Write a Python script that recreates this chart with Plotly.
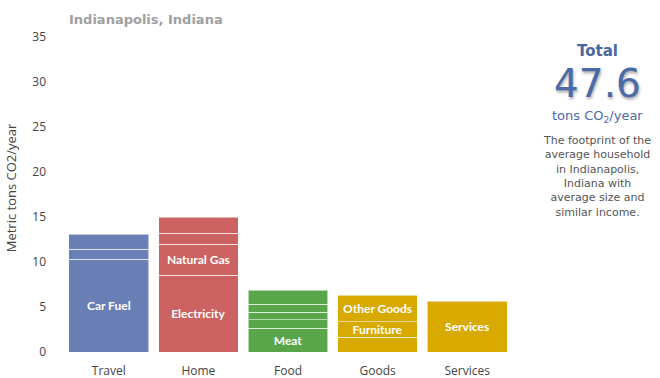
import plotly.graph_objects as go

# ---- data ----
categories = ["Travel", "Home", "Food", "Goods", "Services"]
travel = [10.3, 1.1, 1.7]
home = [8.55, 3.4, 1.22, 1.83]
food = [2.63, 0.96, 0.82, 0.89, 1.55]
goods = [1.63, 1.73, 2.97]
services = [5.63]

travel_labels = ["Car Fuel", "", ""]
home_labels = ["Electricity", "Natural Gas", "", ""]
food_labels = ["Meat", "", "", "", ""]
goods_labels = ["", "Furniture", "Other Goods"]
services_labels = ["Services"]

y_ticks = [0, 5, 10, 15, 20, 25, 30, 35]
total_value = 47.6
city = "Indianapolis, Indiana"

# ---- styles ----
colors = ["#6a7fb5", "#cd6262", "#59a64a", "#d8aa00", "#d8aa00"]
seg_values = [travel, home, food, goods, services]
seg_labels = [travel_labels, home_labels, food_labels, goods_labels, services_labels]

fig = go.Figure()
for cat, vals, labs, col in zip(categories, seg_values, seg_labels, colors):
    for v, lab in zip(vals, labs):
        kw = {}
        if lab:
            kw = dict(text=[lab], textposition="inside", insidetextanchor="middle",
                      textangle=0,
                      textfont=dict(family="Lato", size=12, color="white", weight="bold"))
        else:
            kw = dict(textposition="none")
        fig.add_trace(go.Bar(
            x=[cat], y=[v],
            marker=dict(color=col, line=dict(color="rgba(255,255,255,0.55)", width=1)),
            showlegend=False, hoverinfo="skip", **kw,
        ))

fig.update_layout(
    width=660, height=378,
    margin=dict(l=64, r=148, t=37, b=26, autoexpand=False),
    barmode="stack", bargap=0.11,
    paper_bgcolor="white", plot_bgcolor="white",
    uniformtext=dict(mode="show", minsize=12),
    font=dict(family="Open Sans", size=12, color="#444"),
    xaxis=dict(categoryorder="array", categoryarray=categories, showgrid=False,
               showline=False, zeroline=False, ticks="", ticklabelstandoff=10,
               automargin=False,
               tickfont=dict(family="Open Sans", size=12, color="#444")),
    yaxis=dict(range=[0, 35], tickvals=y_ticks, showgrid=False, showline=False,
               zeroline=False, ticks="", ticklabelstandoff=17, automargin=False,
               tickfont=dict(family="Open Sans", size=12, color="#444")),
)

def px_x(pix):
    return (pix - 64) / 448.0

def px_y(pix):
    return (351.7 - pix) / 315.0

ann = []
ann.append(dict(text="Metric tons CO2/year", xref="paper", yref="paper",
                x=px_x(11), y=px_y(188), textangle=-90, xanchor="center", yanchor="middle",
                showarrow=False, font=dict(family="Open Sans", size=13, color="#444")))
ann.append(dict(text=city, xref="paper", yref="paper", x=px_x(67), y=px_y(19),
                xanchor="left", yanchor="middle", showarrow=False,
                font=dict(family="DejaVu Sans", size=13, color="#a0a0a0", weight="bold")))
cx = px_x(597)
ann.append(dict(text="Total", xref="paper", yref="paper", x=cx, y=px_y(50.5),
                xanchor="center", yanchor="middle", showarrow=False,
                font=dict(family="DejaVu Sans", size=15, color="#4a67a1", weight="bold")))
ann.append(dict(text=f"{total_value}", xref="paper", yref="paper", x=cx, y=px_y(83),
                xanchor="center", yanchor="middle", showarrow=False,
                font=dict(family="DejaVu Sans", size=39, color="#4b6aa8",
                          shadow="1px 2px 3px rgba(0,0,0,0.35)")))
ann.append(dict(text="tons CO<sub>2</sub>/year", xref="paper", yref="paper", x=cx, y=px_y(116),
                xanchor="center", yanchor="middle", showarrow=False,
                font=dict(family="DejaVu Sans", size=13, color="#4b6aa8")))
desc = ["The footprint of the", "average household", "in Indianapolis,",
        "Indiana with", "average size and", "similar income."]
ann.append(dict(text="<br>".join(desc), xref="paper", yref="paper", x=cx, y=px_y(132),
                xanchor="center", yanchor="top", align="center", showarrow=False,
                font=dict(family="DejaVu Sans", size=11, color="#555")))
fig.update_layout(annotations=ann)

fig.write_html("out.html", config={"displayModeBar": False},
               post_script="document.body.style.margin='0';document.body.style.padding='0';")
